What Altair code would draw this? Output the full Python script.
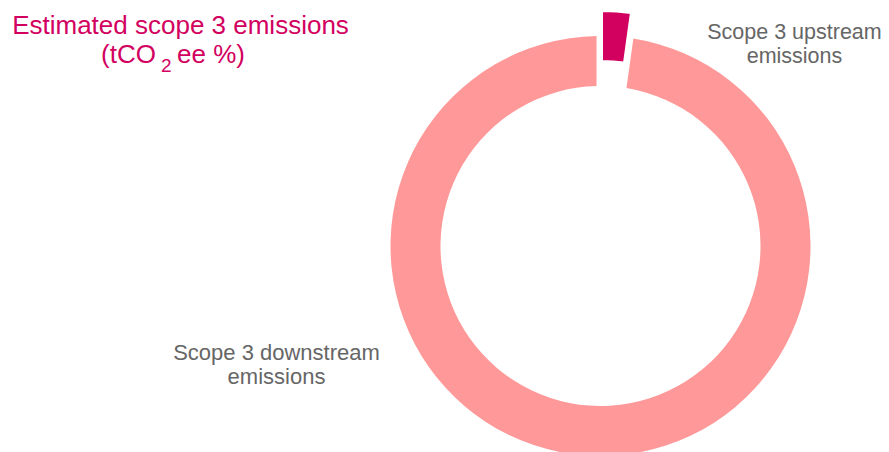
import altair as alt
import pandas as pd

# ---- data ----
categories = ["Scope 3 upstream emissions", "Scope 3 downstream emissions"]
shares = [2.2, 97.8]
slice_order = [0, 1]
colors = ["#D2005F", "#FF9999"]

title_line1 = ["Estimated scope 3 emissions"]
title_line2_parts = ["(tCO", "2", "ee %)"]
upstream_label = ["Scope 3 upstream\nemissions"]
downstream_label = ["Scope 3 downstream\nemissions"]

df = pd.DataFrame({"category": categories, "share": shares, "order": slice_order})

# ---- layout ----
W, H = 873, 444
CX, CY = 592.5, 238
R_OUT, R_IN = 210, 160
EXPLODE = 25
FONT = "Liberation Sans"
TITLE_COLOR = "#D2005F"
LABEL_COLOR = "#666666"

base = (
    alt.Chart(df)
    .transform_window(cum="sum(share)", sort=[alt.SortField("order")], frame=[None, 0])
    .transform_calculate(start="datum.cum - datum.share")
)

theta = alt.Theta("start:Q", scale=alt.Scale(domain=[0, 100]))
theta2 = alt.Theta2("cum:Q")
color = alt.Color("category:N", scale=alt.Scale(domain=categories, range=colors), legend=None)

down = (
    base.transform_filter(alt.datum.order == 1)
    .mark_arc(radius=R_OUT, radius2=R_IN, padAngle=0.03)
    .encode(theta=theta, theta2=theta2, color=color, x=alt.value(CX), y=alt.value(CY))
)

up = (
    base.transform_filter(alt.datum.order == 0)
    .mark_arc(radius=R_OUT, radius2=R_IN, stroke="white", strokeWidth=2)
    .encode(theta=theta, theta2=theta2, color=color, x=alt.value(CX + 1.5), y=alt.value(CY - EXPLODE))
)


def text_layer(texts, x, y, size, col, align="center"):
    return (
        alt.Chart(pd.DataFrame({"t": texts}))
        .mark_text(font=FONT, fontSize=size, color=col, align=align, baseline="alphabetic",
                   lineBreak="\n", lineHeight=24)
        .encode(text="t:N", x=alt.value(x), y=alt.value(y))
    )


t1 = text_layer(title_line1, 172.5, 25.5, 26, TITLE_COLOR)
t2a = text_layer([title_line2_parts[0]], 148, 55, 26, TITLE_COLOR, align="right")
t2b = text_layer([title_line2_parts[1]], 153, 64, 19, TITLE_COLOR, align="left")
t2c = text_layer([title_line2_parts[2]], 169, 55, 26, TITLE_COLOR, align="left")
lu = text_layer(upstream_label, 786.5, 31, 21.5, LABEL_COLOR)
ld = text_layer(downstream_label, 268.5, 352, 22, LABEL_COLOR)

chart = (
    alt.layer(down, up, t1, t2a, t2b, t2c, lu, ld)
    .properties(width=W, height=H, autosize=alt.AutoSizeParams(type="none"), padding=0)
    .configure_view(stroke=None)
)

chart.save("out.html", embed_options={"renderer": "svg", "actions": False})
